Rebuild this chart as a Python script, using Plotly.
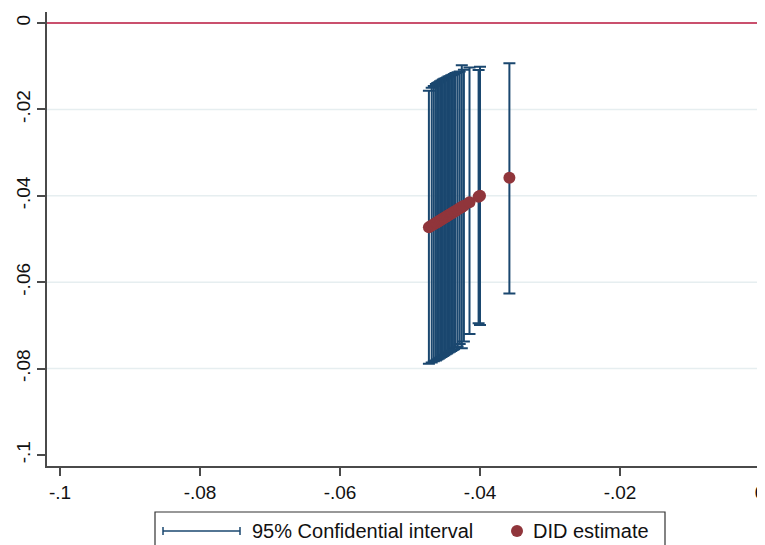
import plotly.graph_objects as go

# ---- data ----
did_estimate = [-0.0473, -0.0469, -0.0466, -0.0463, -0.0461, -0.0459, -0.0457, -0.0455,
                -0.0453, -0.0451, -0.0449, -0.0447, -0.0445, -0.0443, -0.0441, -0.0439,
                -0.0437, -0.0435, -0.0432, -0.0429, -0.0426, -0.0423, -0.0415, -0.0402,
                -0.0400, -0.0358]
ci_upper = [-0.0157, -0.0150, -0.0146, -0.0141, -0.0139, -0.0137, -0.0135, -0.0133,
            -0.0131, -0.0129, -0.0128, -0.0126, -0.0124, -0.0123, -0.0121, -0.0120,
            -0.0118, -0.0116, -0.0114, -0.0112, -0.0098, -0.0108, -0.0103, -0.0109,
            -0.0101, -0.0093]
ci_lower = [-0.0789, -0.0786, -0.0783, -0.0781, -0.0779, -0.0777, -0.0775, -0.0773,
            -0.0771, -0.0769, -0.0767, -0.0765, -0.0763, -0.0761, -0.0759, -0.0757,
            -0.0755, -0.0752, -0.0749, -0.0743, -0.0753, -0.0737, -0.0720, -0.0695,
            -0.0699, -0.0626]

x_tick_vals = [-0.1, -0.08, -0.06, -0.04, -0.02, 0]
x_tick_text = ["-.1", "-.08", "-.06", "-.04", "-.02", "0"]
y_tick_vals = [-0.1, -0.08, -0.06, -0.04, -0.02, 0]
y_tick_text = ["-.1", "-.08", "-.06", "-.04", "-.02", "0"]
grid_vals = [-0.02, -0.04, -0.06, -0.08]
ref_line_value = 0

legend_ci = "95% Confidential interval"
legend_did = "DID estimate"

# ---- styles ----
NAVY = "#1a476f"
MAROON = "#90353b"
RED = "#b8163c"
GRID = "#e6eef0"
AXIS = "#4a4a4a"
FONT = "Liberation Sans, Arial, sans-serif"

OFF = 8  # page body margin
W, H = 765, 545
ML, MR, MT, MB = 39, 0, 4, 87
PW, PH = W - ML - MR, H - MT - MB


def px_x(p):
    # p given in screen pixels
    return (p - OFF - ML) / PW


def px_y(p):
    return (H - MB - (p - OFF)) / PH


err_plus = [u - e for u, e in zip(ci_upper, did_estimate)]
err_minus = [e - l for l, e in zip(ci_lower, did_estimate)]

fig = go.Figure()
fig.add_trace(go.Scatter(
    x=did_estimate, y=did_estimate, mode="markers",
    marker=dict(size=1, color="rgba(0,0,0,0)"),
    error_y=dict(type="data", symmetric=False, array=err_plus, arrayminus=err_minus,
                 color=NAVY, thickness=2, width=6),
    showlegend=False, hoverinfo="skip", name=legend_ci,
))
fig.add_trace(go.Scatter(
    x=did_estimate, y=did_estimate, mode="markers",
    marker=dict(size=12, color=MAROON, line=dict(width=0)),
    showlegend=False, name=legend_did,
))

shapes = []
for g in grid_vals:
    shapes.append(dict(type="line", xref="paper", yref="y", x0=0, x1=1, y0=g, y1=g,
                       line=dict(color=GRID, width=1.5), layer="below"))
shapes.append(dict(type="line", xref="paper", yref="y", x0=0, x1=1,
                   y0=ref_line_value, y1=ref_line_value,
                   line=dict(color=RED, width=1.5), layer="below"))

# manual legend (screen pixel positions)
lg_y = 531
shapes.append(dict(type="rect", xref="paper", yref="paper",
                   x0=px_x(155), x1=px_x(665), y0=px_y(512), y1=px_y(570),
                   line=dict(color="#333333", width=1.2), fillcolor="white"))
shapes.append(dict(type="line", xref="paper", yref="paper",
                   x0=px_x(163), x1=px_x(240), y0=px_y(lg_y), y1=px_y(lg_y),
                   line=dict(color=NAVY, width=1.5)))
for cx in (163, 240):
    shapes.append(dict(type="line", xref="paper", yref="paper",
                       x0=px_x(cx), x1=px_x(cx), y0=px_y(lg_y - 4), y1=px_y(lg_y + 4),
                       line=dict(color=NAVY, width=1.5)))
shapes.append(dict(type="circle", xref="paper", yref="paper",
                   xsizemode="pixel", ysizemode="pixel",
                   xanchor=px_x(517), yanchor=px_y(lg_y),
                   x0=-6, x1=6, y0=-6, y1=6,
                   fillcolor=MAROON, line=dict(width=0)))

annotations = [
    dict(xref="paper", yref="paper", x=px_x(250), y=px_y(lg_y), text=legend_ci,
         showarrow=False, xanchor="left", yanchor="middle",
         font=dict(family=FONT, size=20, color="#111111")),
    dict(xref="paper", yref="paper", x=px_x(531), y=px_y(lg_y), text=legend_did,
         showarrow=False, xanchor="left", yanchor="middle",
         font=dict(family=FONT, size=20, color="#111111")),
]

fig.update_layout(
    width=W, height=H,
    margin=dict(l=ML, r=MR, t=MT, b=MB, pad=0),
    paper_bgcolor="white", plot_bgcolor="white",
    font=dict(family=FONT, size=19, color="#111111"),
    shapes=shapes, annotations=annotations,
    showlegend=False,
    xaxis=dict(range=[-0.1 - 13 / 7000, 13 / 7000], tickvals=x_tick_vals, ticktext=x_tick_text,
               showgrid=False, zeroline=False, showline=True, linecolor=AXIS, linewidth=1.5,
               ticks="outside", ticklen=8, tickwidth=1.5, tickcolor=AXIS,
               tickfont=dict(size=19), automargin=False),
    yaxis=dict(range=[-0.1 - 11 / 4320, 11 / 4320], tickvals=y_tick_vals, ticktext=y_tick_text,
               showgrid=False, zeroline=False, showline=True, linecolor=AXIS, linewidth=1.5,
               ticks="outside", ticklen=8, tickwidth=1.5, tickcolor=AXIS,
               tickangle=-90, tickfont=dict(size=19), automargin=False),
)

fig.write_html("out.html")
